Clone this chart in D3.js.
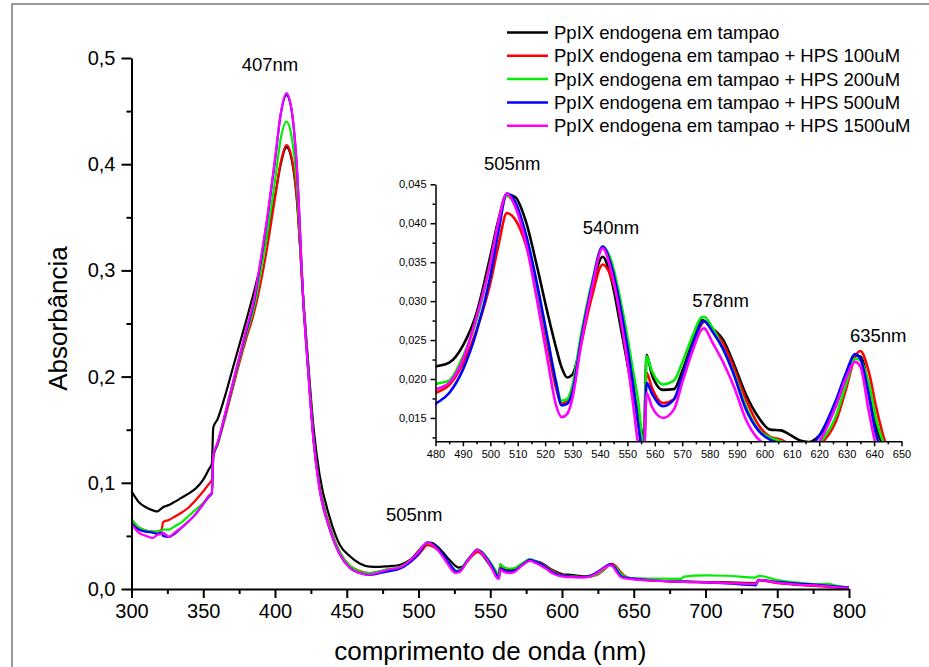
<!DOCTYPE html>
<html lang="pt">
<head>
<meta charset="utf-8">
<script src="https://cdn.jsdelivr.net/npm/d3@7"></script>
<style>
  body { margin: 0; background: #fff; }
  svg { display: block; font-family: Arial, "Liberation Sans", sans-serif; }
  .axis path, .axis line { stroke: #000; }
  .axis text { fill: #000; }
</style>
</head>
<body>
<svg id="chart" width="929" height="667"></svg>
<script>
// wavelength grid (nm), shared by every series
const wl = [
  300, 305, 310, 315, 318, 321, 322, 326, 330, 335,
  340, 345, 350, 354, 356, 357, 360, 365, 370, 375,
  380, 385, 390, 395, 400, 404, 408, 411, 415, 420,
  423, 427, 431, 438, 445, 452, 459, 466, 473, 480,
  485, 490, 495, 500, 503, 506, 509, 513, 517, 521,
  524, 526, 528, 530, 533, 537, 541, 544, 548, 552,
  554, 556, 557, 559, 563, 567, 570, 574, 577, 578,
  581, 585, 589, 593, 598, 602, 606, 609, 613, 616,
  619, 622, 626, 630, 633, 635, 638, 641, 644, 647,
  650, 665, 683, 685, 700, 715, 735, 737, 750, 765,
  780, 785, 790, 800
];

// absorbance, one array per sample
const absTampao = [
  0.092, 0.082, 0.077, 0.074, 0.073, 0.076, 0.077, 0.079, 0.082, 0.086,
  0.090, 0.095, 0.103, 0.113, 0.118, 0.152, 0.160, 0.181, 0.205, 0.229,
  0.253, 0.278, 0.305, 0.335, 0.370, 0.400, 0.416, 0.408, 0.370, 0.268,
  0.215, 0.150, 0.108, 0.068, 0.042, 0.031, 0.024, 0.021, 0.0208, 0.0216,
  0.0221, 0.0243, 0.0285, 0.0358, 0.0405, 0.0437, 0.0434, 0.0402, 0.0345, 0.0283,
  0.0240, 0.0215, 0.0202, 0.0206, 0.0245, 0.0315, 0.0357, 0.0330, 0.0258, 0.0184,
  0.0155, 0.0125, 0.0231, 0.0205, 0.0186, 0.0187, 0.0210, 0.0250, 0.0276, 0.0275,
  0.0265, 0.0250, 0.0218, 0.0182, 0.0150, 0.0135, 0.0134, 0.0129, 0.0121, 0.0119,
  0.0124, 0.0136, 0.0165, 0.0205, 0.0230, 0.0229, 0.0190, 0.0135, 0.0112, 0.0100,
  0.0096, 0.0080, 0.0070, 0.0069, 0.0066, 0.0062, 0.0056, 0.0085, 0.0060, 0.0042,
  0.0030, 0.0026, 0.0020, 0.0010
];
const absHps100 = [
  0.065, 0.058, 0.055, 0.054, 0.054, 0.056, 0.063, 0.065, 0.068, 0.072,
  0.077, 0.084, 0.092, 0.099, 0.103, 0.125, 0.136, 0.160, 0.186, 0.212,
  0.236, 0.258, 0.288, 0.325, 0.368, 0.402, 0.418, 0.410, 0.372, 0.265,
  0.210, 0.140, 0.098, 0.060, 0.035, 0.022, 0.017, 0.0150, 0.0165, 0.0182,
  0.0192, 0.0220, 0.0263, 0.0323, 0.0372, 0.0413, 0.0405, 0.0372, 0.0316, 0.0240,
  0.0188, 0.0168, 0.0172, 0.0190, 0.0242, 0.0305, 0.0347, 0.0332, 0.0278, 0.0195,
  0.0145, 0.0105, 0.0208, 0.0188, 0.0169, 0.0174, 0.0203, 0.0246, 0.0270, 0.0274,
  0.0264, 0.0245, 0.0213, 0.0176, 0.0140, 0.0126, 0.0122, 0.0117, 0.0114, 0.0112,
  0.0114, 0.0122, 0.0145, 0.0190, 0.0228, 0.0236, 0.0210, 0.0160, 0.0120, 0.0104,
  0.0096, 0.0078, 0.0068, 0.0067, 0.0063, 0.0058, 0.0050, 0.0080, 0.0055, 0.0038,
  0.0025, 0.0020, 0.0015, 0.0010
];
const absHps200 = [
  0.066, 0.058, 0.055, 0.054, 0.054, 0.055, 0.056, 0.056, 0.059, 0.063,
  0.069, 0.075, 0.081, 0.088, 0.091, 0.125, 0.136, 0.162, 0.188, 0.215,
  0.240, 0.263, 0.298, 0.338, 0.384, 0.424, 0.440, 0.430, 0.385, 0.266,
  0.210, 0.140, 0.097, 0.059, 0.035, 0.022, 0.0165, 0.0150, 0.0168, 0.0193,
  0.0198, 0.0229, 0.0276, 0.0349, 0.0400, 0.0435, 0.0424, 0.0385, 0.0320, 0.0248,
  0.0196, 0.0172, 0.0174, 0.0192, 0.0255, 0.0323, 0.0370, 0.0353, 0.0292, 0.0212,
  0.0170, 0.0110, 0.0229, 0.0210, 0.0193, 0.0198, 0.0221, 0.0257, 0.0279, 0.0280,
  0.0266, 0.0238, 0.0206, 0.0167, 0.0134, 0.0125, 0.0120, 0.0116, 0.0113, 0.0113,
  0.0116, 0.0126, 0.0152, 0.0196, 0.0226, 0.0224, 0.0195, 0.0145, 0.0115, 0.0106,
  0.0102, 0.0097, 0.0095, 0.0117, 0.0128, 0.0125, 0.0108, 0.0124, 0.0085, 0.0060,
  0.0045, 0.0050, 0.0035, 0.0012
];
const absHps500 = [
  0.062, 0.056, 0.054, 0.053, 0.052, 0.053, 0.050, 0.049, 0.052, 0.058,
  0.064, 0.071, 0.080, 0.087, 0.090, 0.125, 0.137, 0.163, 0.190, 0.217,
  0.243, 0.268, 0.308, 0.352, 0.403, 0.447, 0.465, 0.455, 0.402, 0.265,
  0.208, 0.138, 0.095, 0.057, 0.033, 0.020, 0.015, 0.0132, 0.0150, 0.0168,
  0.0182, 0.0212, 0.0261, 0.0332, 0.0390, 0.0438, 0.0428, 0.0385, 0.0323, 0.0250,
  0.0195, 0.0166, 0.0168, 0.0184, 0.0248, 0.0319, 0.0370, 0.0347, 0.0282, 0.0195,
  0.0140, 0.0100, 0.0195, 0.0181, 0.0165, 0.0174, 0.0203, 0.0246, 0.0272, 0.0274,
  0.0261, 0.0238, 0.0204, 0.0163, 0.0133, 0.0122, 0.0117, 0.0114, 0.0112, 0.0114,
  0.0122, 0.0140, 0.0172, 0.0210, 0.0232, 0.0226, 0.0180, 0.0125, 0.0108, 0.0102,
  0.0098, 0.0080, 0.0070, 0.0069, 0.0062, 0.0052, 0.0035, 0.0085, 0.0068, 0.0052,
  0.0038, 0.0032, 0.0025, 0.0015
];
const absHps1500 = [
  0.061, 0.053, 0.050, 0.048, 0.051, 0.052, 0.053, 0.049, 0.053, 0.058,
  0.064, 0.071, 0.080, 0.088, 0.091, 0.126, 0.138, 0.164, 0.191, 0.218,
  0.245, 0.270, 0.310, 0.354, 0.405, 0.448, 0.467, 0.456, 0.403, 0.265,
  0.207, 0.137, 0.094, 0.057, 0.033, 0.020, 0.015, 0.0135, 0.0160, 0.0186,
  0.0195, 0.0225, 0.0280, 0.0349, 0.0403, 0.0438, 0.0422, 0.0374, 0.0302, 0.0222,
  0.0166, 0.0151, 0.0155, 0.0176, 0.0242, 0.0315, 0.0368, 0.0340, 0.0268, 0.0170,
  0.0115, 0.0095, 0.0182, 0.0164, 0.0150, 0.0161, 0.0195, 0.0238, 0.0263, 0.0265,
  0.0247, 0.0221, 0.0189, 0.0150, 0.0122, 0.0115, 0.0112, 0.0110, 0.0109, 0.0110,
  0.0115, 0.0132, 0.0165, 0.0203, 0.0222, 0.0216, 0.0160, 0.0112, 0.0100, 0.0095,
  0.0090, 0.0078, 0.0068, 0.0067, 0.0062, 0.0056, 0.0048, 0.0085, 0.0060, 0.0042,
  0.0030, 0.0025, 0.0018, 0.0010
];

const seriesNames = [
  'PpIX endogena em tampao',
  'PpIX endogena em tampao + HPS 100uM',
  'PpIX endogena em tampao + HPS 200uM',
  'PpIX endogena em tampao + HPS 500uM',
  'PpIX endogena em tampao + HPS 1500uM'
];
const seriesColors = ['#000000', '#ff0000', '#00ee00', '#0000ff', '#ff00ff'];
const seriesValues = [absTampao, absHps100, absHps200, absHps500, absHps1500];

// tick values
const mainXTicks = [300, 350, 400, 450, 500, 550, 600, 650, 700, 750, 800];
const mainXMinor = [325, 375, 425, 475, 525, 575, 625, 675, 725, 775];
const mainYTicks = [0, 0.1, 0.2, 0.3, 0.4, 0.5];
const mainYMinor = [0.05, 0.15, 0.25, 0.35, 0.45];
const insetXTicks = [480, 490, 500, 510, 520, 530, 540, 550, 560, 570, 580, 590, 600, 610, 620, 630, 640, 650];
const insetYTicks = [0.015, 0.020, 0.025, 0.030, 0.035, 0.040, 0.045];
const insetYMinor = [0.0125, 0.0175, 0.0225, 0.0275, 0.0325, 0.0375, 0.0425];

// peak annotations (placed in data units)
const mainPeaks = [{ text: '407nm', nm: 396.5, v: 0.4875 }, { text: '505nm', nm: 497, v: 0.064 }];
const insetPeaks = [
  { text: '505nm', nm: 508, v: 0.0468 },
  { text: '540nm', nm: 544, v: 0.0386 },
  { text: '578nm', nm: 584, v: 0.0293 },
  { text: '635nm', nm: 641.5, v: 0.0248 }
];

const series = seriesValues.map((vals, i) => ({
  name: seriesNames[i],
  color: seriesColors[i],
  points: wl.map((w, j) => ({ x: w, y: vals[j] }))
}));

const comma = f => d => d3.format(f)(d).replace('.', ',');

const svg = d3.select('#chart');

// outer frame of the exported figure
svg.append('rect')
  .attr('x', 12).attr('y', 4)
  .attr('width', 1000).attr('height', 1000)
  .attr('fill', 'none').attr('stroke', '#7a7a7a').attr('stroke-width', 1.5);

// ---------- main plot ----------
const xMain = d3.scaleLinear().domain([300, 800]).range([131.5, 849]);
const yMain = d3.scaleLinear().domain([0, 0.5]).range([589, 58]);

const lineMain = d3.line()
  .x(d => xMain(d.x))
  .y(d => yMain(d.y))
  .curve(d3.curveMonotoneX);

const gMain = svg.append('g');

gMain.selectAll('path.series')
  .data(series)
  .enter().append('path')
  .attr('class', 'series')
  .attr('fill', 'none')
  .attr('stroke', d => d.color)
  .attr('stroke-width', 2.2)
  .attr('stroke-linejoin', 'round')
  .attr('d', d => lineMain(d.points));

const xAxisMain = gMain.append('g').attr('class', 'axis')
  .attr('transform', `translate(0,${yMain(0)})`)
  .call(d3.axisBottom(xMain).tickValues(mainXTicks).tickSize(9).tickSizeOuter(0).tickPadding(6).tickFormat(d3.format('d')));
xAxisMain.selectAll('text').attr('font-size', 20).attr('font-family', null);
xAxisMain.selectAll('path, line').attr('stroke-width', 2);

gMain.append('g').attr('class', 'axis')
  .attr('transform', `translate(0,${yMain(0)})`)
  .call(d3.axisBottom(xMain).tickValues(mainXMinor).tickSize(5).tickSizeOuter(0).tickFormat(''))
  .call(g => g.select('.domain').remove())
  .selectAll('line').attr('stroke-width', 2);

const yAxisMain = gMain.append('g').attr('class', 'axis')
  .attr('transform', `translate(${xMain(300)},0)`)
  .call(d3.axisLeft(yMain).tickValues(mainYTicks).tickSize(10).tickSizeOuter(0).tickPadding(6).tickFormat(comma('.1f')));
yAxisMain.selectAll('text').attr('font-size', 20).attr('font-family', null);
yAxisMain.selectAll('path, line').attr('stroke-width', 2);

gMain.append('g').attr('class', 'axis')
  .attr('transform', `translate(${xMain(300)},0)`)
  .call(d3.axisLeft(yMain).tickValues(mainYMinor).tickSize(5).tickSizeOuter(0).tickFormat(''))
  .call(g => g.select('.domain').remove())
  .selectAll('line').attr('stroke-width', 2);

gMain.append('text')
  .attr('x', (xMain(300) + xMain(800)) / 2)
  .attr('y', 660)
  .attr('text-anchor', 'middle')
  .attr('font-size', 26)
  .text('comprimento de onda (nm)');

gMain.append('text')
  .attr('transform', `translate(67,${(yMain(0) + yMain(0.5)) / 2 - 5}) rotate(-90)`)
  .attr('text-anchor', 'middle')
  .attr('font-size', 26)
  .text('Absorbância');

gMain.selectAll('text.peak')
  .data(mainPeaks)
  .enter().append('text')
  .attr('class', 'peak')
  .attr('x', d => xMain(d.nm))
  .attr('y', d => yMain(d.v))
  .attr('text-anchor', 'middle')
  .attr('font-size', 18.5)
  .text(d => d.text);

// ---------- inset ----------
const xIn = d3.scaleLinear().domain([480, 650]).range([435.5, 901.5]);
const yIn = d3.scaleLinear().domain([0.012, 0.045]).range([441.3, 184.3]);

const lineIn = d3.line()
  .x(d => xIn(d.x))
  .y(d => yIn(d.y))
  .curve(d3.curveMonotoneX);

svg.append('clipPath').attr('id', 'inset-clip')
  .append('rect')
  .attr('x', xIn(480)).attr('y', yIn(0.045) - 4)
  .attr('width', xIn(650) - xIn(480)).attr('height', yIn(0.012) - yIn(0.045) + 4);

const gIn = svg.append('g');

gIn.append('g').attr('clip-path', 'url(#inset-clip)')
  .selectAll('path')
  .data(series)
  .enter().append('path')
  .attr('fill', 'none')
  .attr('stroke', d => d.color)
  .attr('stroke-width', 2.6)
  .attr('stroke-linejoin', 'round')
  .attr('d', d => lineIn(d.points.filter(p => p.x >= 473 && p.x <= 660)));

const xAxisIn = gIn.append('g').attr('class', 'axis')
  .attr('transform', `translate(0,${yIn(0.012)})`)
  .call(d3.axisBottom(xIn).tickValues(insetXTicks).tickSize(5).tickSizeOuter(0).tickPadding(4).tickFormat(d3.format('d')));
xAxisIn.selectAll('text').attr('font-size', 11).attr('font-family', null);
xAxisIn.selectAll('path, line').attr('stroke-width', 1.5);

gIn.append('g').attr('class', 'axis')
  .attr('transform', `translate(0,${yIn(0.012)})`)
  .call(d3.axisBottom(xIn).tickValues(insetXTicks.slice(0, -1).map(d => d + 5)).tickSize(3).tickSizeOuter(0).tickFormat(''))
  .call(g => g.select('.domain').remove())
  .selectAll('line').attr('stroke-width', 1.5);

const yAxisIn = gIn.append('g').attr('class', 'axis')
  .attr('transform', `translate(${xIn(480)},0)`)
  .call(d3.axisLeft(yIn).tickValues(insetYTicks).tickSize(5).tickSizeOuter(0).tickPadding(4).tickFormat(comma('.3f')));
yAxisIn.selectAll('text').attr('font-size', 11).attr('font-family', null);
yAxisIn.selectAll('path, line').attr('stroke-width', 1.5);

gIn.append('g').attr('class', 'axis')
  .attr('transform', `translate(${xIn(480)},0)`)
  .call(d3.axisLeft(yIn).tickValues(insetYMinor).tickSize(3).tickSizeOuter(0).tickFormat(''))
  .call(g => g.select('.domain').remove())
  .selectAll('line').attr('stroke-width', 1.5);

gIn.selectAll('text.peak')
  .data(insetPeaks)
  .enter().append('text')
  .attr('class', 'peak')
  .attr('x', d => xIn(d.nm))
  .attr('y', d => yIn(d.v))
  .attr('text-anchor', 'middle')
  .attr('font-size', 18.5)
  .text(d => d.text);

// ---------- legend ----------
const legend = svg.append('g').attr('transform', 'translate(507,32.5)');
const rows = legend.selectAll('g')
  .data(series)
  .enter().append('g')
  .attr('transform', (d, i) => `translate(0,${i * 23.3})`);
rows.append('line')
  .attr('x1', 0).attr('x2', 41)
  .attr('stroke', d => d.color)
  .attr('stroke-width', 2.5);
rows.append('text')
  .attr('x', 47)
  .attr('dy', '0.35em')
  .attr('font-size', 18.5)
  .text(d => d.name);
</script>
</body>
</html>
